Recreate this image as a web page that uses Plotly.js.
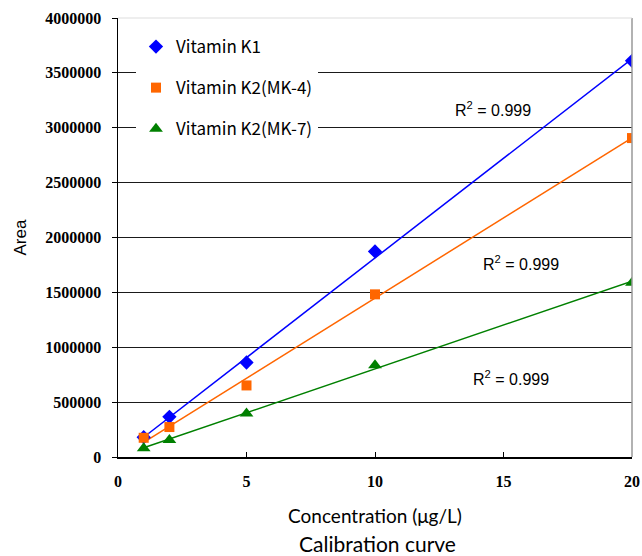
<!DOCTYPE html>
<html>
<head>
<meta charset="utf-8">
<script src="https://cdn.plot.ly/plotly-3.0.1.min.js"></script>
<style>html,body{margin:0;padding:0;background:#fff;}#chart{width:642px;height:556px;}</style>
</head>
<body>
<div id="chart"></div>
<script>
// Data
const concentration = [1, 2, 5, 10, 20];
const seriesNames = ["Vitamin K1", "Vitamin K2(MK-4)", "Vitamin K2(MK-7)"];
const areaK1 = [180000, 366000, 861000, 1873000, 3610000];
const areaMK4 = [175000, 273000, 652000, 1482000, 2906000];
const areaMK7 = [79000, 155000, 397000, 836000, 1588000];
const r2Labels = ["R<sup>2</sup> = 0.999", "R<sup>2</sup> = 0.999", "R<sup>2</sup> = 0.999"];
const yTicks = [0, 500000, 1000000, 1500000, 2000000, 2500000, 3000000, 3500000, 4000000];
const xTicks = [0, 5, 10, 15, 20];

const colors = ["#0000ff", "#ff6600", "#008000"];
const symbols = ["diamond", "square", "triangle-up"];
const sizes = [11, 10, 12];
const allSeries = [areaK1, areaMK4, areaMK7];

function fit(xs, ys) {
  const n = xs.length;
  const mx = xs.reduce((a, b) => a + b, 0) / n;
  const my = ys.reduce((a, b) => a + b, 0) / n;
  let sxy = 0, sxx = 0;
  for (let i = 0; i < n; i++) { sxy += (xs[i] - mx) * (ys[i] - my); sxx += (xs[i] - mx) ** 2; }
  const b = sxy / sxx;
  const a = my - b * mx;
  const x0 = xs[0], x1 = xs[n - 1];
  return { x: [x0, x1], y: [a + b * x0, a + b * x1] };
}

const traces = [];
allSeries.forEach((ys, i) => {
  const f = fit(concentration, ys);
  traces.push({
    x: f.x, y: f.y, mode: "lines", type: "scatter",
    line: { color: colors[i], width: 1.5 }, showlegend: false, hoverinfo: "skip"
  });
});
allSeries.forEach((ys, i) => {
  traces.push({
    x: concentration, y: ys, mode: "markers", type: "scatter", name: seriesNames[i],
    legendgroup: "g" + i,
    marker: { color: colors[i], symbol: symbols[i], size: sizes[i] }
  });
});

const tickFont = { family: "Liberation Serif, Times New Roman, serif", size: 16, color: "#000", weight: "bold" };
const r2Font = { family: "Liberation Sans, Arial, sans-serif", size: 16, color: "#000" };

const layout = {
  width: 642, height: 556,
  margin: { l: 118, r: 10, t: 18, b: 99 },
  paper_bgcolor: "#fff", plot_bgcolor: "#fff",
  showlegend: true,
  legend: {
    x: 0.035, y: 0.975, xanchor: "left", yanchor: "top",
    bgcolor: "#fff", borderwidth: 0,
    font: { family: "Noto Sans CJK JP, sans-serif", size: 17, color: "#000" },
    tracegroupgap: 16, itemwidth: 30
  },
  xaxis: {
    range: [0, 20], tickvals: xTicks, ticktext: xTicks.map(String),
    ticks: "inside", ticklen: 5, tickcolor: "#000",
    showgrid: false, zeroline: false,
    showline: true, linecolor: "#000", linewidth: 1.5, mirror: false,
    tickfont: tickFont, ticklabelstandoff: 9,
    title: { text: "Concentration (μg/L)", font: { family: "Lato, Open Sans, sans-serif", size: 19, color: "#000" }, standoff: 21 }
  },
  yaxis: {
    range: [0, 4000000], tickvals: yTicks, ticktext: yTicks.map(String),
    ticks: "outside", ticklen: 5, tickcolor: "#000",
    showgrid: true, gridcolor: "#1a1a1a", gridwidth: 1, zeroline: false,
    showline: true, linecolor: "#000", linewidth: 1.5,
    tickfont: tickFont, ticklabelstandoff: 7,
    title: { text: "Area", font: { family: "Liberation Sans, Arial, sans-serif", size: 17, color: "#000" }, standoff: 14 }
  },
  shapes: [
    { type: "line", xref: "paper", yref: "paper", x0: 1, x1: 1, y0: 0, y1: 1, line: { color: "#999", width: 1.5 } },
    { type: "line", xref: "paper", yref: "paper", x0: 0, x1: 1, y0: 1, y1: 1, line: { color: "#ddd", width: 1 } }
  ],
  annotations: [
    { x: 14.6, y: 3175000, xref: "x", yref: "y", text: r2Labels[0], showarrow: false, font: r2Font },
    { x: 15.7, y: 1765000, xref: "x", yref: "y", text: r2Labels[1], showarrow: false, font: r2Font },
    { x: 15.3, y: 720000, xref: "x", yref: "y", text: r2Labels[2], showarrow: false, font: r2Font },
    { x: 0.505, y: -0.198, xref: "paper", yref: "paper", xanchor: "center", yanchor: "middle",
      text: "Calibration curve", showarrow: false, font: { family: "Lato, Open Sans, sans-serif", size: 21, color: "#000" } }
  ]
};

Plotly.newPlot("chart", traces, layout, { staticPlot: true, displayModeBar: false });
</script>
</body>
</html>
